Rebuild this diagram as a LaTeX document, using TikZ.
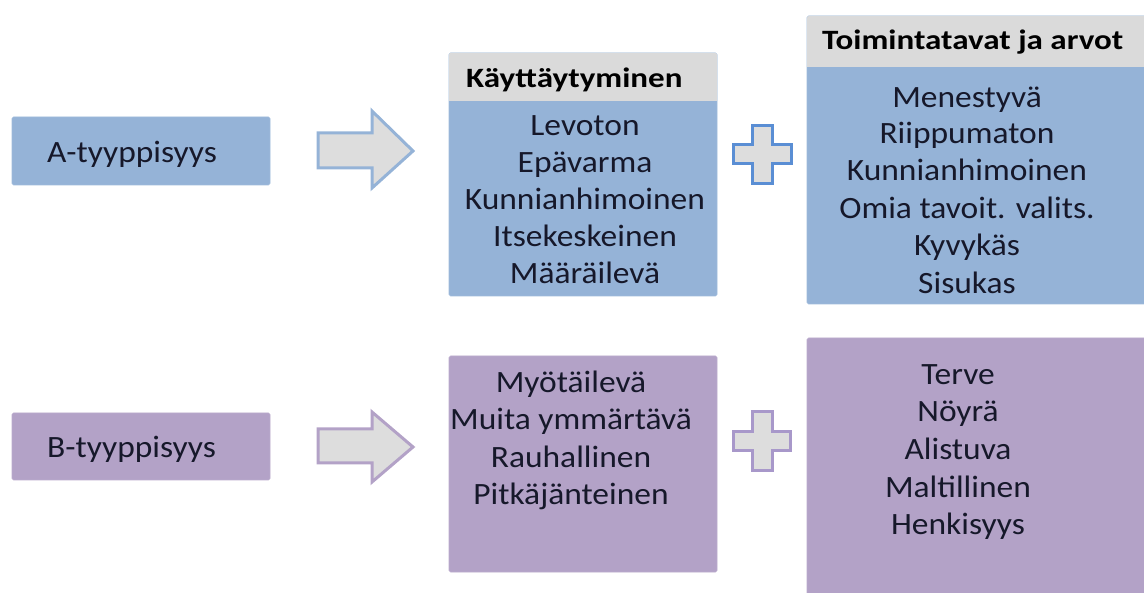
\documentclass[tikz,border=0pt]{standalone}
\usepackage{fontspec}
\setmainfont{Carlito}[FakeStretch=1.08]
\newfontfamily\headfont{Carlito}[FakeStretch=1.18]
\begin{document}
\begin{tikzpicture}[x=1pt,y=-1pt,
  bodytxt/.style={anchor=base,font=\fontsize{31}{37}\selectfont,text=txtdark,inner sep=0pt},
  headtxt/.style={anchor=base west,font=\headfont\fontsize{28}{32}\selectfont\bfseries,text=black,inner sep=0pt},
  bluebox/.style={fill=boxblue,draw=boxblue!90!white,line width=0.6pt,rounded corners=1.5pt},
  lilabox/.style={fill=boxlila,draw=boxlila!90!white,line width=0.6pt,rounded corners=1.5pt},
  blockarrow/.style={fill=shapegray,line width=3pt,line join=miter},
]
\definecolor{boxblue}{HTML}{95B3D7}
\definecolor{boxlila}{HTML}{B3A2C7}
\definecolor{headgray}{HTML}{DADADA}
\definecolor{shapegray}{HTML}{DDDDDD}
\definecolor{plusblue}{HTML}{5A8ED4}
\definecolor{pluslila}{HTML}{A898CA}
\definecolor{txtdark}{HTML}{16182A}
\useasboundingbox (0,0) rectangle (1144,593);

% left type boxes
\draw[bluebox] (12,117) rectangle (270,185);
\node[bodytxt,anchor=base west] (atype) at (47,163) {A-tyyppisyys};
\draw[lilabox] (12,413) rectangle (270,480);
\node[bodytxt,anchor=base west] (btype) at (47,458) {B-tyyppisyys};

% block arrows
\draw[blockarrow,draw=boxblue] (318,133) -- (372,133) -- (372,111) -- (413,151)
  -- (372,188) -- (372,168) -- (318,168) -- cycle;
\draw[blockarrow,draw=boxlila] (318,429) -- (372,429) -- (372,412) -- (413,447)
  -- (372,482) -- (372,463) -- (318,463) -- cycle;

% behaviour column, top
\draw[bluebox] (449,53) rectangle (717,296);
\fill[headgray,rounded corners=1.5pt] (449,53) rectangle (717,101);
\fill[headgray] (449,80) rectangle (717,101);
\node[headtxt] (hbeh) at (466,88) {Käyttäytyminen};
\node[bodytxt] (b1) at (585,136) {Levoton};
\node[bodytxt] (b2) at (585,173) {Epävarma};
\node[bodytxt] (b3) at (585,210) {Kunnianhimoinen};
\node[bodytxt] (b4) at (585,247) {Itsekeskeinen};
\node[bodytxt] (b5) at (585,284) {Määräilevä};

% behaviour column, bottom
\draw[lilabox] (449,356) rectangle (717,572);
\node[bodytxt] (c1) at (571,393) {Myötäilevä};
\node[bodytxt] (c2) at (571,430) {Muita ymmärtävä};
\node[bodytxt] (c3) at (571,468) {Rauhallinen};
\node[bodytxt] (c4) at (571,505) {Pitkäjänteinen};

% plus signs
\draw[blockarrow,draw=plusblue] (752,126) -- (772,126) -- (772,145) -- (791,145) -- (791,164)
  -- (772,164) -- (772,184) -- (752,184) -- (752,164) -- (733,164) -- (733,145) -- (752,145) -- cycle;
\draw[blockarrow,draw=pluslila] (752,412) -- (772,412) -- (772,432) -- (790,432) -- (790,451)
  -- (772,451) -- (772,471) -- (752,471) -- (752,451) -- (733,451) -- (733,432) -- (752,432) -- cycle;

% values column, top
\draw[bluebox] (807,16) rectangle (1150,304);
\fill[headgray,rounded corners=1.5pt] (807,16) rectangle (1150,67);
\fill[headgray] (807,45) rectangle (1150,67);
\node[headtxt] (hval) at (822,50) {Toimintatavat ja arvot};
\node[bodytxt] (v1) at (967,108) {Menestyvä};
\node[bodytxt] (v2) at (967,144) {Riippumaton};
\node[bodytxt] (v3) at (967,181) {Kunnianhimoinen};
\node[bodytxt] (v4) at (967,219) {Omia tavoit. valits.};
\node[bodytxt] (v5) at (967,256) {Kyvykäs};
\node[bodytxt] (v6) at (967,294) {Sisukas};

% values column, bottom
\draw[lilabox] (807,338) rectangle (1150,600);
\node[bodytxt] (w1) at (958,385) {Terve};
\node[bodytxt] (w2) at (958,422) {Nöyrä};
\node[bodytxt] (w3) at (958,460) {Alistuva};
\node[bodytxt] (w4) at (958,497) {Maltillinen};
\node[bodytxt] (w5) at (958,535) {Henkisyys};
\end{tikzpicture}
\end{document}
